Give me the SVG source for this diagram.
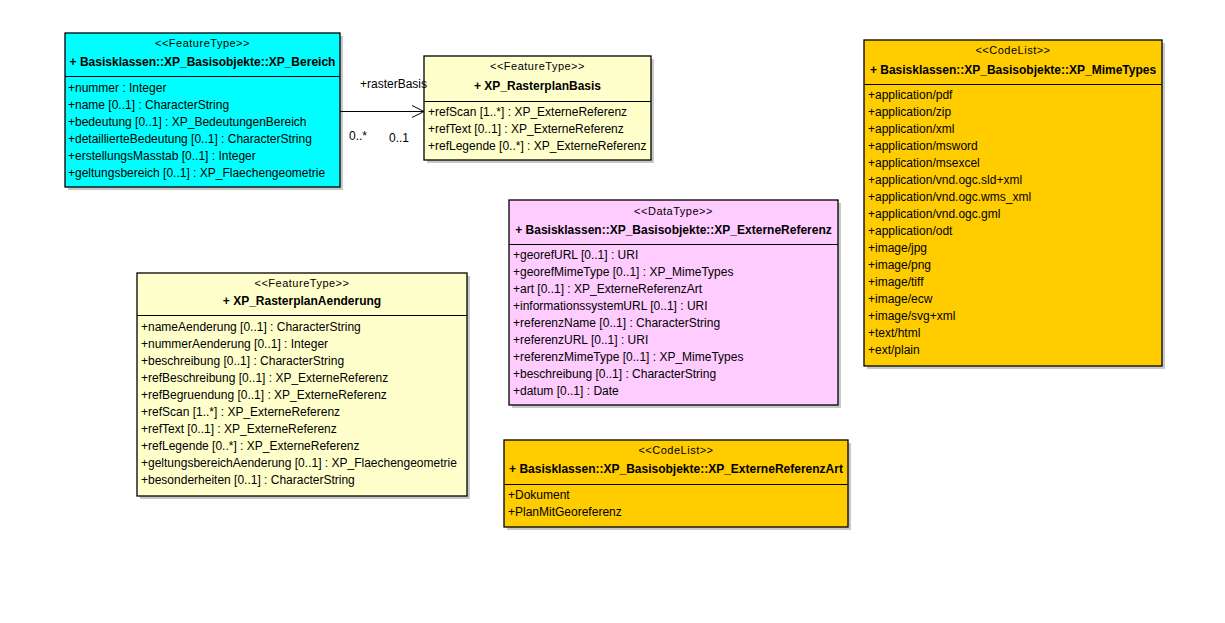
<svg xmlns="http://www.w3.org/2000/svg" width="1225" height="623" viewBox="0 0 1225 623">
<style>
text{font-family:"Liberation Sans",Arial,sans-serif;fill:#000}
.st{font-size:11px;letter-spacing:0.5px;text-anchor:middle}
.nm{font-size:12px;font-weight:bold;text-anchor:middle}
.at{font-size:12px}
.lb{font-size:12px}
.box{stroke:#000;stroke-width:1.3}
.sh{fill:#c8c8c8}
.sep{stroke:#000;stroke-width:1}
.ft{fill:#FFFFCC}
.cy{fill:#00FFFF}
.cl{fill:#FFCC00}
.dt{fill:#FFCCFF}
</style>
<defs>
<marker id="open" markerWidth="14" markerHeight="14" refX="13" refY="7" orient="auto" markerUnits="userSpaceOnUse">
<path d="M1,1 L13,7 L1,13" fill="none" stroke="#000" stroke-width="1"/>
</marker>
</defs>
<rect width="1225" height="623" fill="#fff"/>

<g id="XP_Bereich">
<rect class="sh" x="68" y="36" width="275" height="154"/>
<rect class="box cy" x="65" y="33" width="275" height="154"/>
<line class="sep" x1="65" y1="76.5" x2="340" y2="76.5"/>
<text class="st" x="202.5" y="47">&lt;&lt;FeatureType&gt;&gt;</text>
<text class="nm" x="202.5" y="66">+ Basisklassen::XP_Basisobjekte::XP_Bereich</text>
<text class="at" x="68" y="91.5">+nummer : Integer</text>
<text class="at" x="68" y="108.5">+name [0..1] : CharacterString</text>
<text class="at" x="68" y="125.5">+bedeutung [0..1] : XP_BedeutungenBereich</text>
<text class="at" x="68" y="142.5">+detaillierteBedeutung [0..1] : CharacterString</text>
<text class="at" x="68" y="159.5">+erstellungsMasstab [0..1] : Integer</text>
<text class="at" x="68" y="176.5">+geltungsbereich [0..1] : XP_Flaechengeometrie</text>
</g>

<g id="XP_RasterplanBasis">
<rect class="sh" x="427" y="59" width="227" height="104"/>
<rect class="box ft" x="424" y="56" width="227" height="104"/>
<line class="sep" x1="424" y1="101.5" x2="651" y2="101.5"/>
<text class="st" x="537.5" y="70">&lt;&lt;FeatureType&gt;&gt;</text>
<text class="nm" x="537.5" y="90">+ XP_RasterplanBasis</text>
<text class="at" x="428" y="115.5">+refScan [1..*] : XP_ExterneReferenz</text>
<text class="at" x="428" y="132.5">+refText [0..1] : XP_ExterneReferenz</text>
<text class="at" x="428" y="149.5">+refLegende [0..*] : XP_ExterneReferenz</text>
</g>

<g id="XP_MimeTypes">
<rect class="sh" x="867" y="43" width="298" height="326"/>
<rect class="box cl" x="864" y="40" width="298" height="326"/>
<line class="sep" x1="864" y1="84.5" x2="1162" y2="84.5"/>
<text class="st" x="1013" y="54">&lt;&lt;CodeList&gt;&gt;</text>
<text class="nm" x="1013" y="74">+ Basisklassen::XP_Basisobjekte::XP_MimeTypes</text>
<text class="at" x="868" y="98.5">+application/pdf</text>
<text class="at" x="868" y="115.5">+application/zip</text>
<text class="at" x="868" y="132.5">+application/xml</text>
<text class="at" x="868" y="149.5">+application/msword</text>
<text class="at" x="868" y="166.5">+application/msexcel</text>
<text class="at" x="868" y="183.5">+application/vnd.ogc.sld+xml</text>
<text class="at" x="868" y="200.5">+application/vnd.ogc.wms_xml</text>
<text class="at" x="868" y="217.5">+application/vnd.ogc.gml</text>
<text class="at" x="868" y="234.5">+application/odt</text>
<text class="at" x="868" y="251.5">+image/jpg</text>
<text class="at" x="868" y="268.5">+image/png</text>
<text class="at" x="868" y="285.5">+image/tiff</text>
<text class="at" x="868" y="302.5">+image/ecw</text>
<text class="at" x="868" y="319.5">+image/svg+xml</text>
<text class="at" x="868" y="336.5">+text/html</text>
<text class="at" x="868" y="353.5">+ext/plain</text>
</g>

<g id="XP_ExterneReferenz">
<rect class="sh" x="512" y="203" width="329" height="205"/>
<rect class="box dt" x="509" y="200" width="329" height="205"/>
<line class="sep" x1="509" y1="244.5" x2="838" y2="244.5"/>
<text class="st" x="673.5" y="215">&lt;&lt;DataType&gt;&gt;</text>
<text class="nm" x="673.5" y="234">+ Basisklassen::XP_Basisobjekte::XP_ExterneReferenz</text>
<text class="at" x="513" y="258.5">+georefURL [0..1] : URI</text>
<text class="at" x="513" y="275.5">+georefMimeType [0..1] : XP_MimeTypes</text>
<text class="at" x="513" y="292.5">+art [0..1] : XP_ExterneReferenzArt</text>
<text class="at" x="513" y="309.5">+informationssystemURL [0..1] : URI</text>
<text class="at" x="513" y="326.5">+referenzName [0..1] : CharacterString</text>
<text class="at" x="513" y="343.5">+referenzURL [0..1] : URI</text>
<text class="at" x="513" y="360.5">+referenzMimeType [0..1] : XP_MimeTypes</text>
<text class="at" x="513" y="377.5">+beschreibung [0..1] : CharacterString</text>
<text class="at" x="513" y="394.5">+datum [0..1] : Date</text>
</g>

<g id="XP_RasterplanAenderung">
<rect class="sh" x="140" y="276" width="330" height="223"/>
<rect class="box ft" x="137" y="273" width="330" height="223"/>
<line class="sep" x1="137" y1="315.5" x2="467" y2="315.5"/>
<text class="st" x="302" y="287">&lt;&lt;FeatureType&gt;&gt;</text>
<text class="nm" x="302" y="305">+ XP_RasterplanAenderung</text>
<text class="at" x="141" y="330.5">+nameAenderung [0..1] : CharacterString</text>
<text class="at" x="141" y="347.5">+nummerAenderung [0..1] : Integer</text>
<text class="at" x="141" y="364.5">+beschreibung [0..1] : CharacterString</text>
<text class="at" x="141" y="381.5">+refBeschreibung [0..1] : XP_ExterneReferenz</text>
<text class="at" x="141" y="398.5">+refBegruendung [0..1] : XP_ExterneReferenz</text>
<text class="at" x="141" y="415.5">+refScan [1..*] : XP_ExterneReferenz</text>
<text class="at" x="141" y="432.5">+refText [0..1] : XP_ExterneReferenz</text>
<text class="at" x="141" y="449.5">+refLegende [0..*] : XP_ExterneReferenz</text>
<text class="at" x="141" y="466.5">+geltungsbereichAenderung [0..1] : XP_Flaechengeometrie</text>
<text class="at" x="141" y="483.5">+besonderheiten [0..1] : CharacterString</text>
</g>

<g id="XP_ExterneReferenzArt">
<rect class="sh" x="507" y="443" width="344" height="87"/>
<rect class="box cl" x="504" y="440" width="344" height="87"/>
<line class="sep" x1="504" y1="484.5" x2="848" y2="484.5"/>
<text class="st" x="676" y="454">&lt;&lt;CodeList&gt;&gt;</text>
<text class="nm" x="676" y="473">+ Basisklassen::XP_Basisobjekte::XP_ExterneReferenzArt</text>
<text class="at" x="508" y="498.5">+Dokument</text>
<text class="at" x="508" y="515.5">+PlanMitGeoreferenz</text>
</g>

<g id="connectors">
<line x1="340" y1="111.5" x2="424" y2="111.5" stroke="#000" stroke-width="1" marker-end="url(#open)"/>
<text class="lb" x="360" y="88">+rasterBasis</text>
<text class="lb" x="349" y="140">0..*</text>
<text class="lb" x="389" y="142">0..1</text>
</g>
</svg>
